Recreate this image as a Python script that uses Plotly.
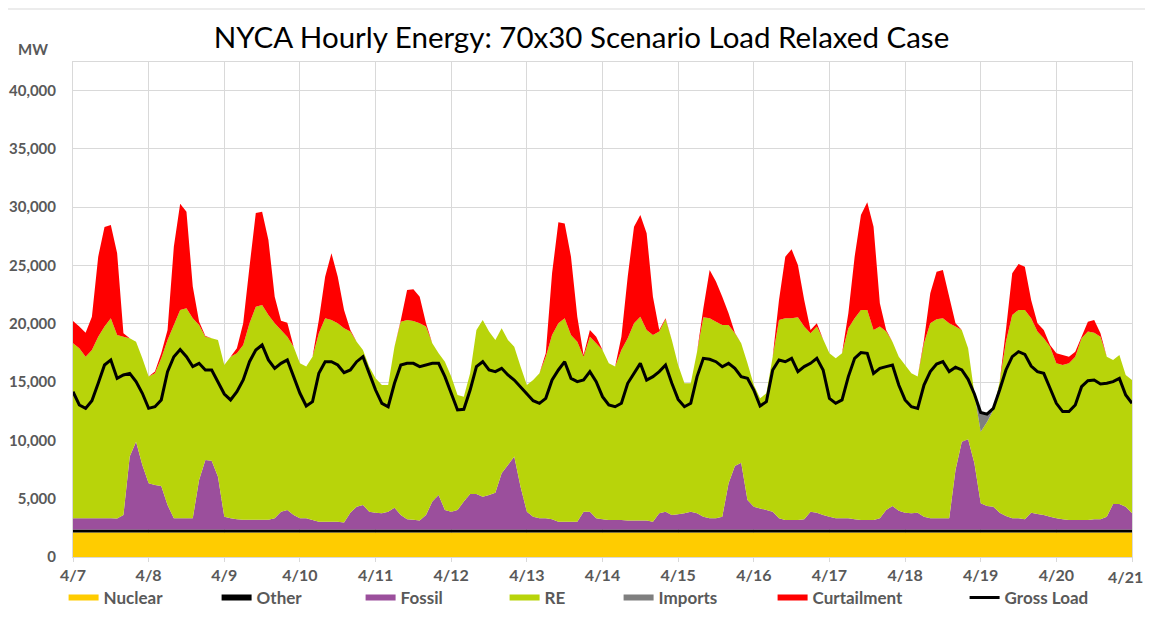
import plotly.graph_objects as go

# ---- data (MW), 2-hour steps from 4/7 00:00 to 4/21 00:00 ----
hours = list(range(0, 337, 2))
day_ticks = list(range(0, 337, 24))
day_labels = ["4/7", "4/8", "4/9", "4/10", "4/11", "4/12", "4/13", "4/14",
              "4/15", "4/16", "4/17", "4/18", "4/19", "4/20", "4/21"]

nuclear = [
    2100, 2100, 2100, 2100, 2100, 2100, 2100, 2100, 2100, 2100, 2100, 2100,
    2100, 2100, 2100, 2100, 2100, 2100, 2100, 2100, 2100, 2100, 2100, 2100,
    2100, 2100, 2100, 2100, 2100, 2100, 2100, 2100, 2100, 2100, 2100, 2100,
    2100, 2100, 2100, 2100, 2100, 2100, 2100, 2100, 2100, 2100, 2100, 2100,
    2100, 2100, 2100, 2100, 2100, 2100, 2100, 2100, 2100, 2100, 2100, 2100,
    2100, 2100, 2100, 2100, 2100, 2100, 2100, 2100, 2100, 2100, 2100, 2100,
    2100, 2100, 2100, 2100, 2100, 2100, 2100, 2100, 2100, 2100, 2100, 2100,
    2100, 2100, 2100, 2100, 2100, 2100, 2100, 2100, 2100, 2100, 2100, 2100,
    2100, 2100, 2100, 2100, 2100, 2100, 2100, 2100, 2100, 2100, 2100, 2100,
    2100, 2100, 2100, 2100, 2100, 2100, 2100, 2100, 2100, 2100, 2100, 2100,
    2100, 2100, 2100, 2100, 2100, 2100, 2100, 2100, 2100, 2100, 2100, 2100,
    2100, 2100, 2100, 2100, 2100, 2100, 2100, 2100, 2100, 2100, 2100, 2100,
    2100, 2100, 2100, 2100, 2100, 2100, 2100, 2100, 2100, 2100, 2100, 2100,
    2100, 2100, 2100, 2100, 2100, 2100, 2100, 2100, 2100, 2100, 2100, 2100,
    2100]

other = [
    250, 250, 250, 250, 250, 250, 250, 250, 250, 250, 250, 250,
    250, 250, 250, 250, 250, 250, 250, 250, 250, 250, 250, 250,
    250, 250, 250, 250, 250, 250, 250, 250, 250, 250, 250, 250,
    250, 250, 250, 250, 250, 250, 250, 250, 250, 250, 250, 250,
    250, 250, 250, 250, 250, 250, 250, 250, 250, 250, 250, 250,
    250, 250, 250, 250, 250, 250, 250, 250, 250, 250, 250, 250,
    250, 250, 250, 250, 250, 250, 250, 250, 250, 250, 250, 250,
    250, 250, 250, 250, 250, 250, 250, 250, 250, 250, 250, 250,
    250, 250, 250, 250, 250, 250, 250, 250, 250, 250, 250, 250,
    250, 250, 250, 250, 250, 250, 250, 250, 250, 250, 250, 250,
    250, 250, 250, 250, 250, 250, 250, 250, 250, 250, 250, 250,
    250, 250, 250, 250, 250, 250, 250, 250, 250, 250, 250, 250,
    250, 250, 250, 250, 250, 250, 250, 250, 250, 250, 250, 250,
    250, 250, 250, 250, 250, 250, 250, 250, 250, 250, 250, 250,
    250]

# stacked level read at the top of the purple (Fossil) band
fossil_top = [
    3320, 3320, 3320, 3320, 3320, 3320, 3320, 3300, 3600, 8610, 9890, 7890,
    6320, 6180, 6090, 4460, 3320, 3320, 3320, 3320, 6600, 8320, 8260, 6890,
    3460, 3320, 3230, 3200, 3200, 3200, 3200, 3200, 3320, 3890, 4030, 3600,
    3320, 3320, 3170, 3030, 3030, 3030, 3030, 2950, 3800, 4320, 4460, 3890,
    3800, 3750, 3890, 4230, 3600, 3230, 3200, 3120, 3600, 4750, 5320, 4030,
    3890, 4030, 4750, 5400, 5400, 5170, 5320, 5520, 7180, 7890, 8610, 6030,
    3890, 3460, 3320, 3320, 3230, 3030, 3030, 3030, 3030, 3890, 3890, 3320,
    3230, 3170, 3170, 3170, 3120, 3120, 3120, 3120, 3030, 3750, 3890, 3600,
    3660, 3750, 3890, 3750, 3460, 3320, 3320, 3460, 6320, 7800, 8090, 4890,
    4320, 4170, 4030, 3890, 3320, 3170, 3170, 3170, 3230, 3890, 3800, 3600,
    3460, 3320, 3320, 3320, 3230, 3170, 3170, 3170, 3320, 4030, 4370, 3970,
    3800, 3750, 3800, 3460, 3320, 3320, 3320, 3320, 7460, 9890, 10090, 8030,
    4600, 4370, 4320, 3800, 3520, 3320, 3320, 3230, 3800, 3690, 3600, 3460,
    3320, 3230, 3170, 3170, 3170, 3170, 3230, 3230, 3460, 4550, 4550, 4320,
    3750]

# stacked level read at the top of the green (RE) band
re_top = [
    18330, 17900, 17180, 17750, 18900, 19760, 20470, 19040, 18900, 18760, 18470, 17040,
    15470, 15750, 17040, 18610, 19900, 21190, 21330, 20470, 19900, 18900, 18760, 18610,
    16470, 17180, 17470, 18180, 20040, 21470, 21610, 20760, 20040, 19470, 18900, 18040,
    16610, 16330, 17180, 19180, 20470, 20330, 20040, 19610, 19330, 18470, 17750, 16320,
    15320, 14750, 14750, 18040, 20180, 20330, 20240, 20040, 19760, 18330, 17470, 16750,
    15470, 13900, 13750, 15750, 19470, 20330, 19330, 18610, 19610, 18610, 18040, 16330,
    14750, 15180, 15750, 17180, 19040, 20040, 20470, 19040, 18470, 17180, 18900, 18330,
    17750, 16610, 16330, 17750, 18760, 20040, 20610, 19470, 19040, 19330, 20390, 18610,
    16470, 14900, 14900, 17610, 20560, 20470, 20180, 19900, 19900, 19180, 18330, 16610,
    14750, 13610, 14040, 17180, 20330, 20470, 20470, 20560, 19760, 19180, 19760, 18670,
    17470, 17040, 17470, 19610, 20470, 21190, 21190, 19470, 19760, 19330, 18470, 17180,
    16470, 15750, 15470, 18330, 20040, 20390, 20470, 20040, 19760, 19470, 17900, 14000,
    10750, 11580, 12600, 15000, 18470, 20760, 21190, 21190, 20470, 19330, 18760, 18040,
    16610, 16470, 16610, 17180, 18760, 19330, 19240, 18900, 17180, 16900, 17330, 15610,
    15180]

imports = [
    0, 0, 0, 0, 0, 0, 0, 0, 0, 0, 0, 0,
    0, 0, 0, 0, 0, 0, 0, 0, 0, 0, 0, 0,
    0, 0, 0, 0, 0, 0, 0, 0, 0, 0, 0, 0,
    0, 0, 0, 0, 0, 0, 0, 0, 0, 0, 0, 0,
    0, 0, 0, 0, 0, 0, 0, 0, 0, 0, 0, 0,
    0, 0, 0, 0, 0, 0, 0, 0, 0, 0, 0, 0,
    0, 0, 0, 0, 0, 0, 0, 0, 0, 0, 0, 0,
    0, 0, 0, 0, 0, 0, 0, 0, 0, 0, 0, 0,
    0, 0, 0, 0, 0, 0, 0, 0, 0, 0, 0, 0,
    0, 0, 0, 0, 0, 0, 0, 0, 0, 0, 0, 0,
    0, 0, 0, 0, 0, 0, 0, 0, 0, 0, 0, 0,
    0, 0, 0, 0, 0, 0, 0, 0, 0, 0, 0, 0,
    1650, 770, 0, 0, 0, 0, 0, 0, 0, 0, 0, 0,
    0, 0, 0, 0, 0, 0, 0, 0, 0, 0, 0, 0,
    0]

# stacked level read at the very top of the stack (incl. Curtailment)
total_top = [
    20240, 19760, 19240, 20610, 25760, 28300, 28480, 26050, 19180, 18760, 18470, 17040,
    15470, 15900, 17470, 19470, 26620, 30300, 29600, 23190, 20200, 18960, 18760, 18610,
    16470, 17180, 17900, 20040, 24900, 29500, 29600, 27190, 22330, 20270, 20100, 18040,
    16610, 16330, 17180, 20330, 24040, 26050, 24040, 21190, 19470, 18470, 17750, 16320,
    15320, 14750, 14750, 18040, 20300, 22900, 22960, 22330, 20040, 18330, 17470, 16750,
    15470, 13900, 13750, 15750, 19470, 20330, 19330, 18610, 19610, 18610, 18040, 16330,
    14750, 15180, 15750, 17470, 24330, 28700, 28600, 25760, 20610, 17330, 19470, 18900,
    17750, 16610, 16330, 18900, 24040, 28330, 29330, 27760, 22330, 19470, 20470, 18610,
    16470, 14900, 14900, 17610, 21330, 24620, 23620, 22330, 20900, 19240, 18330, 16610,
    14750, 13610, 14040, 17180, 22040, 25760, 26390, 25040, 22040, 19470, 20040, 18670,
    17470, 17040, 17470, 20900, 25760, 29330, 30420, 28330, 21760, 19470, 18470, 17180,
    16470, 15750, 15470, 18610, 22620, 24470, 24620, 22330, 20040, 19470, 17900, 14000,
    12400, 12350, 12600, 15000, 19470, 24330, 25130, 24900, 22040, 20040, 19470, 18180,
    17470, 17330, 17180, 17610, 18900, 20180, 20330, 19180, 17180, 16900, 17330, 15610,
    15180]

gross_load = [
    14180, 13040, 12750, 13410, 14900, 16470, 16900, 15320, 15610, 15750, 15040, 14040,
    12750, 12890, 13470, 15900, 17180, 17800, 17180, 16330, 16610, 16040, 16040, 15040,
    13980, 13470, 14180, 15180, 16750, 17750, 18180, 16900, 16180, 16610, 16900, 15470,
    14040, 12950, 13320, 15750, 16750, 16750, 16470, 15810, 16040, 16750, 17180, 15750,
    14320, 13180, 12890, 14900, 16470, 16610, 16610, 16330, 16470, 16610, 16610, 15470,
    14040, 12610, 12670, 14320, 16330, 16750, 16040, 15900, 16180, 15610, 15180, 14610,
    13980, 13410, 13180, 13610, 15180, 16040, 16750, 15320, 15040, 15180, 15900, 15040,
    13750, 13040, 12890, 13180, 14900, 15750, 16610, 15180, 15470, 15900, 16470, 14900,
    13520, 12890, 13180, 15470, 17040, 16960, 16750, 16320, 16610, 16180, 15470, 15320,
    14320, 12950, 13320, 16040, 16900, 16750, 17040, 15900, 16330, 16610, 17040, 16040,
    13610, 13180, 13470, 15470, 17040, 17530, 17470, 15750, 16180, 16330, 16470, 14750,
    13470, 12890, 12750, 14750, 15900, 16550, 16750, 15900, 16270, 16040, 15240, 13980,
    12400, 12250, 12750, 14320, 16040, 17180, 17610, 17380, 16380, 15900, 15750, 14470,
    13180, 12470, 12470, 13040, 14610, 15120, 15180, 14840, 14900, 15040, 15320, 13900,
    13180]

# ---- layer thicknesses derived from the stacked readings ----
fossil = [f - n - o for f, n, o in zip(fossil_top, nuclear, other)]
re_gen = [r - f for r, f in zip(re_top, fossil_top)]
curtailment = [t - r - i for t, r, i in zip(total_top, re_top, imports)]

# ---- geometry: screen px of the reference; page body adds an 8px offset ----
OFF = 8
W, H = 1153 - 2 * OFF, 618 - 2 * OFF
PL, PR, PT, PB = 73.4, 1131.6, 62, 557          # plot area in screen px
pw, ph = PR - PL, PB - PT
Y_MAX = (PB - PT) / 116.6 * 10000


def px_x(x):
    return (x - PL) / pw


def px_y(y):
    return (PB - y) / ph


GRAY_TXT = "#595959"
GRID = "#d9d9d9"
FONT = "Lato"

layers = [
    ("Nuclear", nuclear, "#FFCC00", 108),
    ("Other", other, "#000000", 99),
    ("Fossil", fossil, "#9B4F9C", 99),
    ("RE", re_gen, "#B8D40A", 69),
    ("Imports", imports, "#7F7F7F", 109),
    ("Curtailment", curtailment, "#FF0000", 147),
]

fig = go.Figure()
for name, vals, color, lw in layers:
    fig.add_trace(go.Scatter(
        x=hours, y=vals, name=name, stackgroup="one", mode="none",
        fillcolor=color, legendwidth=lw, hoverinfo="x+y+name"))

fig.add_trace(go.Scatter(
    x=hours, y=gross_load, name="Gross Load", mode="lines",
    line=dict(color="#000000", width=3)))

# last day label is placed as right-aligned text so it stays inside the page
tick_text = day_labels[:-1] + [""]

fig.update_layout(
    width=W, height=H,
    margin=dict(l=PL - OFF, r=(W + OFF) - PR, t=PT - OFF, b=(H + OFF) - PB,
                pad=0, autoexpand=False),
    paper_bgcolor="white", plot_bgcolor="white",
    font=dict(family=FONT, color=GRAY_TXT),
    title=dict(text="NYCA Hourly Energy: 70x30 Scenario Load Relaxed Case",
               x=(581.5 - OFF) / W, xref="container", xanchor="center",
               y=1 - (38 - OFF) / H, yref="container", yanchor="middle",
               font=dict(family=FONT, size=29.5, color="#000000")),
    showlegend=True,
    legend=dict(orientation="h", x=px_x(64), y=px_y(598),
                xanchor="left", yanchor="middle",
                font=dict(family=FONT, size=17, color=GRAY_TXT, weight="bold"),
                traceorder="normal", bgcolor="rgba(0,0,0,0)"),
    xaxis=dict(range=[0, 336], tickmode="array", tickvals=day_ticks,
               ticktext=tick_text, showgrid=True, gridcolor=GRID,
               gridwidth=1, zeroline=False, showline=True, linecolor=GRID,
               mirror=True, ticks="outside", ticklen=4, tickcolor=GRID,
               tickfont=dict(family=FONT, size=16, color=GRAY_TXT, weight="bold")),
    yaxis=dict(range=[0, Y_MAX], tickmode="array",
               tickvals=[0, 5000, 10000, 15000, 20000, 25000, 30000, 35000, 40000],
               ticktext=["0", "5,000", "10,000", "15,000", "20,000", "25,000",
                         "30,000", "35,000", "40,000"],
               showgrid=True, gridcolor=GRID, gridwidth=1, zeroline=False,
               showline=True, linecolor=GRID, mirror=True, ticks="",
               ticklabelstandoff=13,
               tickfont=dict(family=FONT, size=15, color=GRAY_TXT, weight="bold")),
    annotations=[
        dict(text="MW", x=px_x(33), y=px_y(49), xref="paper", yref="paper",
             showarrow=False, xanchor="center", yanchor="middle",
             font=dict(family=FONT, size=15, color=GRAY_TXT, weight="bold")),
        dict(text=day_labels[-1], x=px_x(1145), y=px_y(576), xref="paper",
             yref="paper", showarrow=False, xanchor="right", yanchor="middle",
             font=dict(family=FONT, size=16, color=GRAY_TXT, weight="bold")),
    ],
    shapes=[dict(type="rect", xref="paper", yref="paper",
                 x0=px_x(7), x1=px_x(1200), y0=px_y(9), y1=px_y(700),
                 line=dict(color=GRID, width=1), fillcolor="rgba(0,0,0,0)",
                 layer="below")],
)

fig.write_html("out.html")
